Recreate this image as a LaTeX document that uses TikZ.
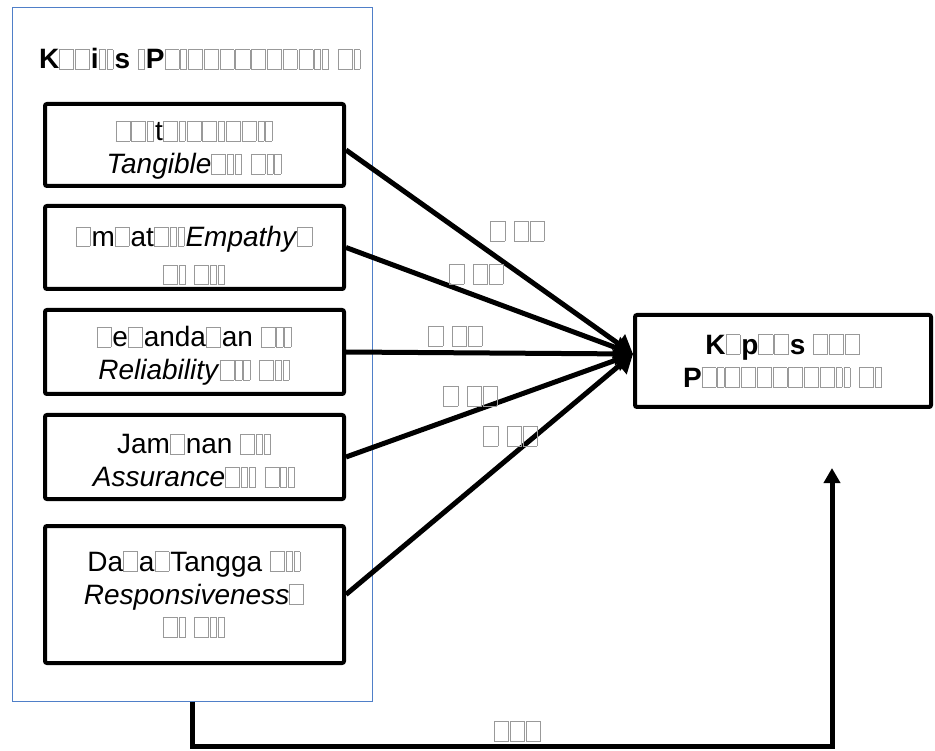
\documentclass[tikz,border=0pt]{standalone}
\usepackage{fontspec}
\setmainfont{Liberation Sans}
\usetikzlibrary{arrows.meta}
\definecolor{wordblue}{HTML}{4F7FC8}
\newcommand\bx[1]{\textcolor{black!40}{\setlength\fboxsep{0pt}\setlength\fboxrule{0.6pt}\fbox{\rule{0pt}{0.68em}\hspace{#1em}}}\kern0.04em}
\newcommand\Bx{\bx{0.48}}
\newcommand\Nx{\bx{0.2}}
\newcommand\lowr[1]{\rule{0pt}{#1}}
\begin{document}
\begin{tikzpicture}[x=1pt,y=-1pt,
  every node/.style={font=\fontsize{28}{33}\selectfont},
  bbox/.style={draw, line width=4pt, rounded corners=2pt, align=center, inner sep=0pt, fill=white, minimum width=299pt},
  conn/.style={line width=5pt, -{Triangle[length=18pt,width=22pt]}},
  lbl/.style={inner sep=0pt}]
\useasboundingbox (0,0) rectangle (935,751);
% outer group
\node[draw=wordblue, line width=1pt, minimum width=360pt, minimum height=693pt, inner sep=0pt] (grp) at (192,354.5) {};
\node[anchor=base west, inner sep=0pt, font=\fontsize{28}{33}\selectfont\bfseries] (ttl) at (39,69)
  {K\Bx\Bx i\Nx\Nx s\ \Nx P\Bx\Nx\Bx\Bx\Bx\Bx\Bx\Bx\Bx\Bx\Nx\Nx\ \Bx\Nx};
% boxes
\node[bbox, minimum height=82pt] (b1) at (194.5,145)
  {\lowr{30pt}\Bx\Bx\Nx t\Bx\Nx\Bx\Bx\Nx\Bx\Bx\Nx\Nx\\\textit{Tangible}\Bx\Nx\Nx\ \Bx\Nx\Nx};
\node[bbox, minimum height=83pt] (b2) at (194.5,247.5)
  {\lowr{36pt}\Bx m\Bx at\Bx\Nx\Nx\textit{Empathy}\Bx\\[5pt]\Bx\Nx\ \Bx\Nx\Nx};
\node[bbox, minimum height=84pt] (b3) at (194.5,352)
  {\lowr{28pt}\Bx e\Bx anda\Bx an\ \Bx\Nx\Nx\\\textit{Reliability}\Bx\Nx\Nx\ \Bx\Nx\Nx};
\node[bbox, minimum height=84pt] (b4) at (194.5,457)
  {\lowr{27pt}Jam\Bx nan\ \Bx\Nx\Nx\\\textit{Assurance}\Bx\Nx\Nx\ \Bx\Nx\Nx};
\node[bbox, minimum height=137pt] (b5) at (194.5,594.5)
  {Da\Bx a\Bx Tangga\ \Bx\Nx\Nx\\\textit{Responsiveness}\Bx\\\Bx\Nx\ \Bx\Nx\Nx};
\node[bbox, minimum width=296pt, minimum height=92pt, font=\fontsize{28}{33}\selectfont\bfseries] (y) at (783,361)
  {K\Bx p\Bx\Bx s\ \Bx\Bx\Bx\\P\Bx\Nx\Bx\Bx\Bx\Bx\Bx\Bx\Bx\Nx\Nx\ \Bx\Nx};
% connectors
\coordinate (tip) at (633,354);
\draw[conn] ([yshift=-5pt]b1.east) -- (tip);
\draw[conn] (b2.east) -- (tip);
\draw[conn] (b3.east) -- (tip);
\draw[conn] (b4.east) -- (tip);
\draw[conn] (b5.east) -- (tip);
\coordinate (uptip) at (832,468);
\draw[line width=5pt, -{Triangle[length=15pt,width=16pt]}] (grp.south) -- ++(0,45) -| (uptip);
% labels
\node[lbl] (h1) at (518,231) {\Bx\ \Bx\Bx};
\node[lbl] (h2) at (477,274) {\Bx\ \Bx\Bx};
\node[lbl] (h3) at (456,336) {\Bx\ \Bx\Bx};
\node[lbl] (h4) at (471,396) {\Bx\ \Bx\Bx};
\node[lbl] (h5) at (511,436) {\Bx\ \Bx\Bx};
\node[lbl] (h6) at (518,731) {\Bx\Bx\Bx};
\end{tikzpicture}
\end{document}
